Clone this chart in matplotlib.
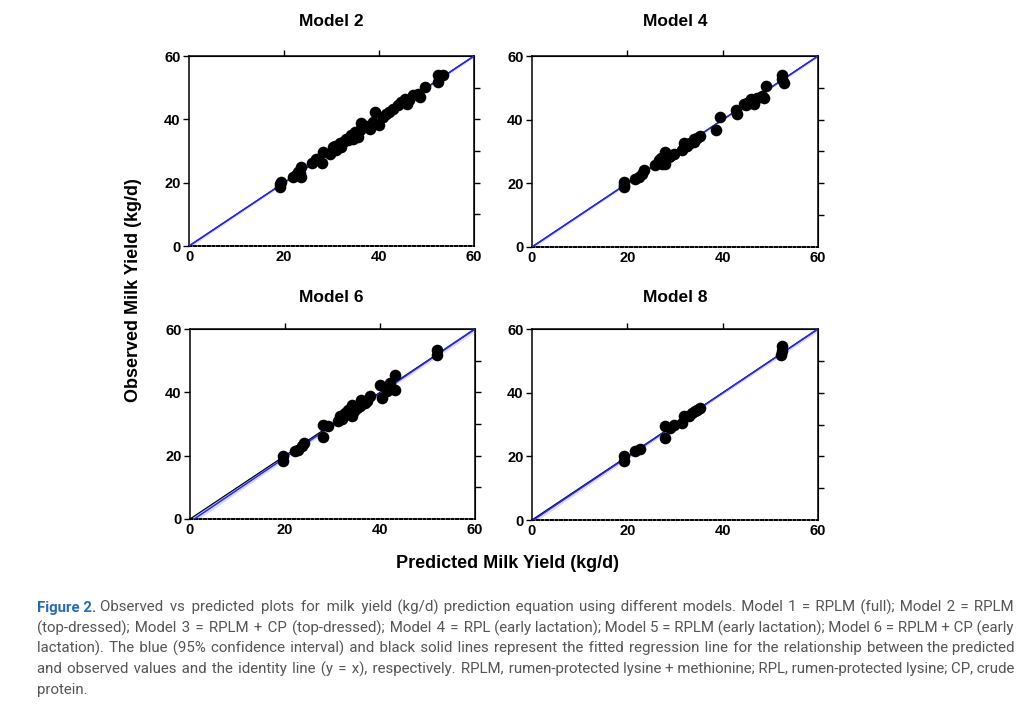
import matplotlib
matplotlib.use("Agg")
import matplotlib.pyplot as plt
import numpy as np

# ---- data: (predicted, observed) per model ----
m2_pred = [19.2, 19.2, 19.4, 21.9, 22.6, 23.3, 23.6, 23.6, 23.0, 25.8, 26.8, 27.9, 28.2,
           29.6, 30.3, 31.0, 31.7, 32.4, 33.1, 33.5, 34.2, 34.9, 35.6, 36.3, 35.9,
           38.0, 38.7, 39.1, 40.1, 40.8, 42.2, 43.0, 44.0, 44.7, 45.4, 45.8,
           47.2, 48.2, 48.6, 49.6, 52.4, 52.4, 53.5, 30.8, 32.0, 34.6, 37.2, 41.5, 46.3]
m2_obs = [19.7, 18.7, 20.3, 21.8, 22.4, 22.9, 25.0, 21.8, 23.5, 26.1, 27.6, 26.1, 29.7,
          29.2, 31.3, 30.3, 32.4, 32.9, 33.9, 33.4, 35.0, 36.0, 34.5, 38.7, 36.6,
          37.1, 39.2, 42.3, 38.1, 40.8, 42.3, 43.4, 44.4, 45.5, 46.5, 45.0,
          47.6, 48.1, 47.1, 50.2, 51.8, 53.9, 53.9, 31.5, 31.2, 33.9, 38.0, 41.8, 46.1]

m4_pred = [19.2, 19.2, 19.3, 21.7, 22.4, 23.1, 23.4, 25.9, 26.6, 27.3, 28.0, 28.0, 28.7, 29.7,
           31.5, 31.8, 32.5, 33.2, 33.9, 34.6, 35.3, 38.5, 39.5,
           42.7, 43.0, 44.8, 45.1, 45.8, 46.5, 47.2, 48.3, 48.6, 49.0, 52.4, 52.4, 52.8,
           27.0, 29.0, 34.0, 44.5, 46.0]
m4_obs = [18.8, 20.4, 19.6, 21.5, 22.0, 23.0, 24.1, 25.7, 27.2, 26.2, 29.8, 26.2, 28.3, 29.3,
          30.4, 32.8, 31.7, 32.8, 33.8, 34.3, 34.9, 36.6, 40.8,
          42.9, 41.9, 44.5, 45.3, 45.9, 44.8, 46.9, 47.4, 46.9, 50.6, 53.9, 52.7, 51.6,
          28.0, 28.5, 33.0, 45.0, 46.5]

m6_pred = [19.5, 19.6, 22.1, 22.8, 23.5, 23.9, 27.9, 27.9, 29.1,
           31.2, 31.6, 32.6, 33.3, 34.0, 34.0, 35.1, 35.8, 36.1, 37.2, 37.9,
           40.0, 40.4, 41.4, 42.1, 43.2, 43.2, 51.9, 51.9, 32.0, 34.5, 36.8, 33.8]
m6_obs = [19.8, 18.2, 21.4, 21.9, 22.9, 24.0, 29.8, 25.9, 29.3,
          30.8, 32.4, 33.5, 34.5, 36.1, 32.4, 35.1, 35.6, 37.7, 37.2, 38.7,
          42.4, 38.2, 40.3, 42.9, 45.6, 40.8, 53.5, 51.9, 31.5, 34.0, 36.5, 33.0]

m8_pred = [19.4, 19.4, 21.7, 22.7, 27.8, 27.8, 29.0, 29.7,
           31.5, 31.8, 32.9, 33.6, 34.3, 35.3, 34.6, 52.4, 52.4, 52.3]
m8_obs = [20.0, 18.4, 21.6, 22.3, 29.5, 25.8, 28.9, 29.7,
          30.5, 32.8, 32.6, 33.7, 34.2, 35.3, 34.7, 54.7, 53.2, 51.8]

# fitted regression lines (intercept, slope) and half-width of the 95% CI band
fit_int = [0.0, 0.0, -0.9, -0.3]
fit_slope = [1.0, 1.0, 1.015, 1.005]
ci_half = [0.3, 0.3, 0.5, 0.45]

titles = ["Model 2", "Model 4", "Model 6", "Model 8"]
preds = [m2_pred, m4_pred, m6_pred, m8_pred]
obs = [m2_obs, m4_obs, m6_obs, m8_obs]

caption_head = "Figure 2."
caption_lines = [
    "Observed vs predicted plots for milk yield (kg/d) prediction equation using different models. Model 1 = RPLM (full); Model 2 = RPLM",
    "(top-dressed); Model 3 = RPLM + CP (top-dressed); Model 4 = RPL (early lactation); Model 5 = RPLM (early lactation); Model 6 = RPLM + CP (early",
    "lactation). The blue (95% confidence interval) and black solid lines represent the fitted regression line for the relationship between the predicted",
    "and observed values and the identity line (y = x), respectively. RPLM, rumen-protected lysine + methionine; RPL, rumen-protected lysine; CP, crude",
    "protein.",
]

W, H = 1024, 710
fig = plt.figure(figsize=(W / 100, H / 100), dpi=100)
plt.rcParams["font.family"] = ["Liberation Sans", "DejaVu Sans"]

# axes boxes in pixels: left, right, top, bottom
boxes = [(189, 474, 56, 246), (532, 818, 56, 247), (190, 475, 329, 519), (532, 818, 329, 520)]
title_pos = [(331, 22), (675, 22), (331, 298), (675, 298)]

for i, (l, r, t, b) in enumerate(boxes):
    ax = fig.add_axes([l / W, 1 - b / H, (r - l) / W, (b - t) / H])
    ax.set_xlim(0, 60); ax.set_ylim(0, 60)
    xs = np.linspace(0, 60, 50)
    yfit = fit_int[i] + fit_slope[i] * xs
    ax.fill_between(xs, yfit - ci_half[i] * (1 + np.abs(xs - 35) / 35),
                    yfit + ci_half[i] * (1 + np.abs(xs - 35) / 35),
                    color="#aab0ff", alpha=0.5, lw=0, zorder=1)
    ax.plot([0, 60], [0, 60], color="black", lw=0.9, zorder=2)
    ax.plot(xs, yfit, color="#2b2bd6", lw=1.1, zorder=3)
    ax.scatter(preds[i], obs[i], s=70, color="black", zorder=4, lw=0)

    ax.set_xticks([0, 20, 40, 60]); ax.set_yticks([0, 20, 40, 60])
    ax.tick_params(axis="both", direction="out", length=4, width=1.0,
                   labelsize=10.5, pad=2)
    for lab in ax.get_xticklabels() + ax.get_yticklabels():
        lab.set_fontweight("bold")
    ax.tick_params(axis="x", length=0, pad=3)
    for s in ["left", "top", "right"]:
        ax.spines[s].set_linewidth(1.1)
    ax.spines["bottom"].set_linestyle((0, (1.2, 1.2)))
    ax.spines["bottom"].set_linewidth(1.4)

    top = ax.secondary_xaxis("top")
    top.set_xticks([20, 40]); top.set_xticklabels([])
    top.tick_params(direction="out", length=4, width=1.0)
    right = ax.secondary_yaxis("right")
    right.set_yticks([10, 20, 30, 40, 50]); right.set_yticklabels([])
    right.tick_params(direction="out", length=4, width=1.0)

    fig.text(title_pos[i][0] / W, 1 - title_pos[i][1] / H, titles[i],
             ha="center", va="center", fontsize=12.5, fontweight="bold")

fig.text(133 / W, 1 - 290 / H, "Observed Milk Yield (kg/d)", rotation=90,
         ha="center", va="center", fontsize=13, fontweight="bold")
fig.text(508 / W, 1 - 563 / H, "Predicted Milk Yield (kg/d)",
         ha="center", va="center", fontsize=13, fontweight="bold")

# caption: one text per line, justified by padding the gaps with hair spaces
cap_font = ["Roboto", "DejaVu Sans"]
cap_size = 10.8
x_left, x_right = 37, 1014
renderer = fig.canvas.get_renderer()


def text_w(s, **kw):
    t = fig.text(0, 0, s, fontsize=cap_size, family=cap_font, **kw)
    w = t.get_window_extent(renderer).width
    t.remove()
    return w


hair = (text_w("a" + "\u200a" * 20 + "a") - text_w("aa")) / 20

for j, line in enumerate(caption_lines):
    y = 1 - (612 + 20.5 * j) / H
    x0 = x_left
    if j == 0:
        fig.text(x_left / W, y, caption_head, ha="left", va="baseline", fontsize=cap_size,
                 fontweight="bold", color="#2a6bb0", family=cap_font)
        x0 = x_left + text_w(caption_head + " ", fontweight="bold")
    words = line.split(" ")
    if j < len(caption_lines) - 1 and len(words) > 1 and hair > 0:
        extra = (x_right - x0) - text_w(line)
        n_hair = max(0, int(round(extra / hair)))
        gaps = len(words) - 1
        out = words[0]
        for k, w in enumerate(words[1:]):
            cnt = n_hair // gaps + (1 if k < n_hair % gaps else 0)
            out += " " + "\u200a" * cnt + w
        line = out
    fig.text(x0 / W, y, line, ha="left", va="baseline", fontsize=cap_size,
             color="#555555", family=cap_font)

fig.savefig("out.png", dpi=100)
